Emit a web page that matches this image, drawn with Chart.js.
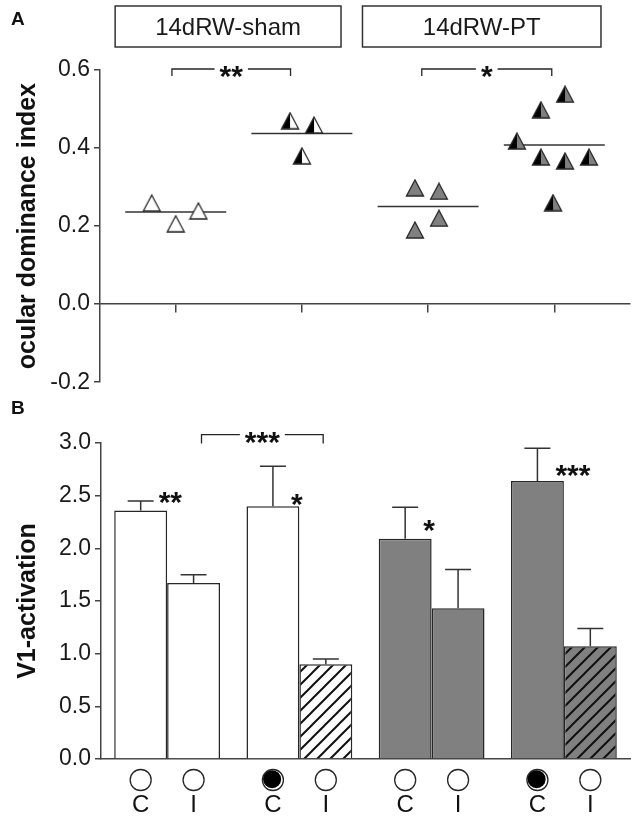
<!DOCTYPE html>
<html>
<head>
<meta charset="utf-8">
<title>Ocular dominance and V1 activation</title>
<script src="https://cdn.jsdelivr.net/npm/chart.js@4"></script>
<style>
  body { margin: 0; background: #fff; }
  #wrap { position: relative; width: 638px; height: 821px; }
  #wrap canvas { position: absolute; left: 0; }
  #chartA { top: 0; }
  #chartB { top: 400px; }
</style>
</head>
<body>
<div id="wrap">
  <canvas id="chartA" width="638" height="400"></canvas>
  <canvas id="chartB" width="638" height="421"></canvas>
</div>
<script>
// ---- Panel A: ocular dominance index (single animals + group means) ----
const groupNames = ['14dRW-sham', '14dRW-PT'];
const odiTicks = [-0.2, 0.0, 0.2, 0.4, 0.6];
const groupPos = [1, 2, 3, 4];

const shamC_x = [0.81, 1.0, 1.18];
const shamC_y = [0.259, 0.206, 0.239];
const shamI_x = [1.906, 2.096, 2.0];
const shamI_y = [0.470, 0.459, 0.380];
const ptC_x = [2.896, 3.086, 2.896, 3.086];
const ptC_y = [0.298, 0.289, 0.190, 0.220];
const ptI_x = [4.085, 3.894, 3.704, 3.894, 4.085, 4.275, 3.99];
const ptI_y = [0.538, 0.498, 0.418, 0.377, 0.367, 0.377, 0.260];
const odiMeans = [0.236, 0.437, 0.250, 0.408];

const starsA = ['**', '*'];
const bracketA = [[0.97, 1.91], [2.95, 3.98]];
const headerA = [[0.52, 2.31], [2.48, 4.37]];

// ---- Panel B: V1 activation, contra (C) and ipsi (I) eye ----
const groupsB = ['sham', 'sham MD', 'PT', 'PT MD'];
const v1Ticks = [0.0, 0.5, 1.0, 1.5, 2.0, 2.5, 3.0];
const contraMean = [2.36, 2.40, 2.09, 2.64];
const contraSem = [0.09, 0.38, 0.30, 0.31];
const ipsiMean = [1.67, 0.90, 1.43, 1.07];
const ipsiSem = [0.08, 0.05, 0.37, 0.17];
const contraClosed = [false, true, false, true];
const starsB = ['**', '*', '*', '***'];
const starsB_y = [2.51, 2.49, 2.24, 2.76];
const bracketB = [0.26, 1.18];

const GRAY = '#808080';
const INK = '#262626';
const FONT = "'Liberation Sans', Arial, sans-serif";

function triangle(left, right) {
    const c = document.createElement('canvas');
    c.width = 20; c.height = 18;
    const g = c.getContext('2d');
    g.fillStyle = left;
    g.beginPath(); g.moveTo(10, 1); g.lineTo(10, 17); g.lineTo(1.5, 17); g.closePath(); g.fill();
    g.fillStyle = right;
    g.beginPath(); g.moveTo(10, 1); g.lineTo(18.5, 17); g.lineTo(10, 17); g.closePath(); g.fill();
    g.strokeStyle = INK; g.lineWidth = 1.3;
    g.beginPath(); g.moveTo(10, 1); g.lineTo(18.5, 17); g.lineTo(1.5, 17); g.closePath(); g.stroke();
    return c;
}

function hatch(bg) {
    const c = document.createElement('canvas');
    c.width = 13; c.height = 13;
    const g = c.getContext('2d');
    g.fillStyle = bg; g.fillRect(0, 0, 13, 13);
    g.strokeStyle = '#111'; g.lineWidth = 2;
    g.beginPath();
    g.moveTo(-2, 15); g.lineTo(15, -2);
    g.moveTo(-2, 2); g.lineTo(2, -2);
    g.moveTo(11, 15); g.lineTo(15, 11);
    g.stroke();
    return g.createPattern(c, 'repeat');
}

function pts(xs, ys) {
    return xs.map((x, i) => ({ x: x, y: ys[i] }));
}

function starText(ctx, text, x, y, align) {
    ctx.font = 'bold 30px ' + FONT;
    ctx.textAlign = align;
    ctx.textBaseline = 'alphabetic';
    ctx.fillStyle = '#111';
    ctx.fillText(text, x, y + 17);
}

function bracket(ctx, x1, x2, y, drop, text) {
    ctx.font = 'bold 30px ' + FONT;
    const w = ctx.measureText(text).width + 10;
    const mid = (x1 + x2) / 2;
    ctx.strokeStyle = INK; ctx.lineWidth = 1.3;
    ctx.beginPath();
    ctx.moveTo(x1, y + drop); ctx.lineTo(x1, y); ctx.lineTo(mid - w / 2, y);
    ctx.moveTo(mid + w / 2, y); ctx.lineTo(x2, y); ctx.lineTo(x2, y + drop);
    ctx.stroke();
    starText(ctx, text, mid, y, 'center');
}

function panelLetter(ctx, letter, x, y) {
    ctx.font = 'bold 19px ' + FONT;
    ctx.fillStyle = '#111';
    ctx.textAlign = 'left';
    ctx.textBaseline = 'middle';
    ctx.fillText(letter, x, y);
}

const annotateA = {
    id: 'annotateA',
    afterDraw(chart) {
        const { ctx, scales: { x, y } } = chart;
        ctx.save();
        // group header boxes
        headerA.forEach((h, i) => {
            const x1 = x.getPixelForValue(h[0]), x2 = x.getPixelForValue(h[1]);
            ctx.strokeStyle = '#333'; ctx.lineWidth = 1.5;
            ctx.strokeRect(x1, 6, x2 - x1, 41);
            ctx.font = '24px ' + FONT;
            ctx.fillStyle = '#1a1a1a';
            ctx.textAlign = 'center'; ctx.textBaseline = 'middle';
            ctx.fillText(groupNames[i], (x1 + x2) / 2, 28);
        });
        // significance brackets
        bracketA.forEach((b, i) => {
            bracket(ctx, x.getPixelForValue(b[0]), x.getPixelForValue(b[1]),
                y.getPixelForValue(0.6) - 1, 7, starsA[i]);
        });
        panelLetter(ctx, 'A', 11, 20);
        ctx.restore();
    }
};

const annotateB = {
    id: 'annotateB',
    afterDatasetsDraw(chart) {
        const { ctx, scales: { x, y }, chartArea } = chart;
        ctx.save();
        // error bars (upward only)
        chart.data.datasets.forEach((ds, di) => {
            chart.getDatasetMeta(di).data.forEach((bar, i) => {
                const top = y.getPixelForValue(ds.data[i] + ds.errors[i]);
                ctx.strokeStyle = '#333'; ctx.lineWidth = 1.5;
                ctx.beginPath();
                ctx.moveTo(bar.x, bar.y); ctx.lineTo(bar.x, top);
                ctx.moveTo(bar.x - 13, top); ctx.lineTo(bar.x + 13, top);
                ctx.stroke();
            });
        });
        // stars next to contra bars
        const contraBars = chart.getDatasetMeta(0).data;
        contraBars.forEach((bar, i) => {
            starText(ctx, starsB[i], bar.x + 18, y.getPixelForValue(starsB_y[i]), 'left');
        });
        bracket(ctx, x.getPixelForValue(bracketB[0]), x.getPixelForValue(bracketB[1]),
            y.getPixelForValue(3.08), 9, '***');
        // eye symbols and C / I letters
        chart.data.datasets.forEach((ds, di) => {
            chart.getDatasetMeta(di).data.forEach((bar, i) => {
                const cy = chartArea.bottom + 21;
                ctx.lineWidth = 1.3; ctx.strokeStyle = INK; ctx.fillStyle = '#fff';
                ctx.beginPath(); ctx.arc(bar.x, cy, 10.5, 0, Math.PI * 2); ctx.fill(); ctx.stroke();
                if (di === 0 && contraClosed[i]) {
                    ctx.fillStyle = '#000';
                    ctx.beginPath(); ctx.arc(bar.x - 0.8, cy - 0.8, 9, 0, Math.PI * 2); ctx.fill();
                }
                ctx.font = '24px ' + FONT;
                ctx.fillStyle = '#111';
                ctx.textAlign = 'center'; ctx.textBaseline = 'middle';
                ctx.fillText(ds.label, bar.x, chartArea.bottom + 46);
            });
        });
        panelLetter(ctx, 'B', 11, 9);
        ctx.restore();
    }
};

const tickFont = { family: FONT, size: 23 };
const titleFont = { family: FONT, size: 25, weight: 'bold' };

const meanSets = odiMeans.map((m, i) => ({
    type: 'line',
    data: [{ x: groupPos[i] - 0.4, y: m }, { x: groupPos[i] + 0.4, y: m }],
    borderColor: '#333',
    borderWidth: 1.5,
    pointRadius: 0,
    showLine: true
}));

new Chart(document.getElementById('chartA'), {
    type: 'scatter',
    data: {
        datasets: [
            { data: pts(shamC_x, shamC_y), pointStyle: triangle('#fff', '#fff') },
            { data: pts(shamI_x, shamI_y), pointStyle: triangle('#000', '#fff') },
            { data: pts(ptC_x, ptC_y), pointStyle: triangle(GRAY, GRAY) },
            { data: pts(ptI_x, ptI_y), pointStyle: triangle('#000', GRAY) }
        ].concat(meanSets)
    },
    options: {
        responsive: false,
        animation: false,
        events: [],
        layout: { padding: { left: 0, right: 8, top: 70, bottom: 12 } },
        plugins: { legend: { display: false }, tooltip: { enabled: false } },
        scales: {
            x: {
                type: 'linear',
                min: 0.4,
                max: 4.6,
                position: { y: 0 },
                afterBuildTicks: s => { s.ticks = groupPos.map(v => ({ value: v })); },
                ticks: { display: false },
                grid: { drawOnChartArea: false, drawTicks: true, tickLength: 8, color: '#444', lineWidth: 1.5 },
                border: { color: '#444', width: 1.5 }
            },
            y: {
                min: -0.2,
                max: 0.6,
                afterFit: s => { s.width = 100; },
                afterBuildTicks: s => { s.ticks = odiTicks.map(v => ({ value: v })); },
                ticks: { font: tickFont, color: '#1a1a1a', padding: 4, callback: v => v.toFixed(1) },
                grid: { drawOnChartArea: false, tickLength: 6, color: '#444', lineWidth: 1.5 },
                border: { color: '#444', width: 1.5 },
                title: { display: true, text: 'ocular dominance index', font: titleFont, color: '#111', padding: { top: 13 } }
            }
        }
    },
    plugins: [annotateA]
});

new Chart(document.getElementById('chartB'), {
    type: 'bar',
    data: {
        labels: groupsB,
        datasets: [
            {
                label: 'C',
                data: contraMean,
                errors: contraSem,
                backgroundColor: ['#fff', '#fff', GRAY, GRAY],
                borderColor: INK,
                borderWidth: 1.5
            },
            {
                label: 'I',
                data: ipsiMean,
                errors: ipsiSem,
                backgroundColor: ['#fff', hatch('#fff'), GRAY, hatch(GRAY)],
                borderColor: INK,
                borderWidth: 1.5
            }
        ]
    },
    options: {
        responsive: false,
        animation: false,
        events: [],
        categoryPercentage: 0.8,
        barPercentage: 1.0,
        layout: { padding: { left: 0, right: 8, top: 43, bottom: 62 } },
        plugins: { legend: { display: false }, tooltip: { enabled: false } },
        scales: {
            x: {
                afterFit: s => { s.height = 0; },
                ticks: { display: false },
                grid: { drawOnChartArea: false, drawTicks: false },
                border: { color: '#444', width: 1.5 }
            },
            y: {
                min: 0,
                max: 3,
                afterFit: s => { s.width = 101; },
                afterBuildTicks: s => { s.ticks = v1Ticks.map(v => ({ value: v })); },
                ticks: { font: tickFont, color: '#1a1a1a', padding: 4, callback: v => v.toFixed(1) },
                grid: { drawOnChartArea: false, tickLength: 6, color: '#444', lineWidth: 1.5 },
                border: { color: '#444', width: 1.5 },
                title: { display: true, text: 'V1-activation', font: titleFont, color: '#111', padding: { top: 13 } }
            }
        }
    },
    plugins: [annotateB]
});
</script>
</body>
</html>
